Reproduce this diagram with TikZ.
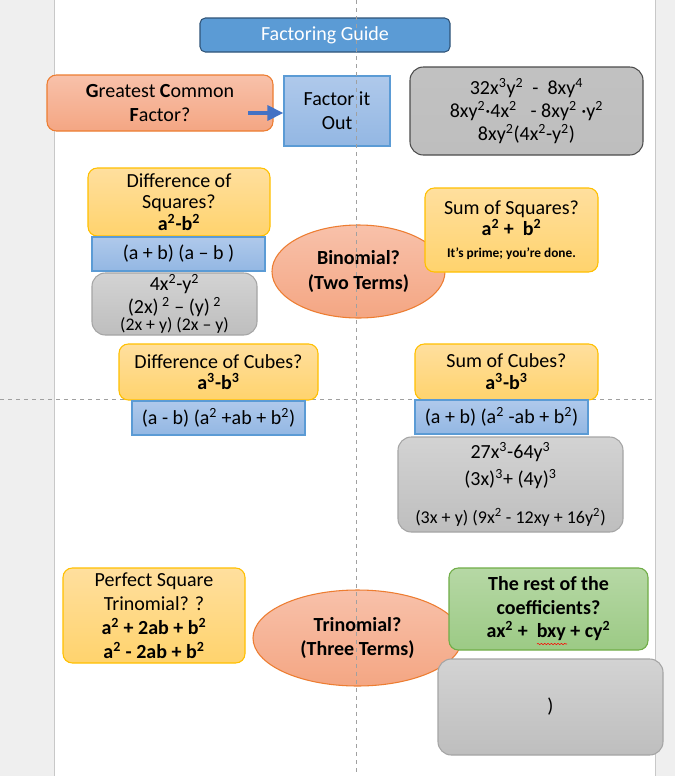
\documentclass[tikz,border=0pt]{standalone}
\usepackage{fontspec}
\setmainfont{Carlito}
\usepackage{xcolor}
\definecolor{bandgris}{HTML}{EFEFEF}
\definecolor{bordpage}{HTML}{C8C8C8}
\definecolor{grille}{HTML}{A0A0A0}
\definecolor{titrefond}{HTML}{5B9BD5}
\definecolor{titrebord}{HTML}{2F5478}
\definecolor{orangehaut}{HTML}{F8C1AA}
\definecolor{orangebas}{HTML}{F4A683}
\definecolor{orangebord}{HTML}{ED7D31}
\definecolor{jaunehaut}{HTML}{FFDF9E}
\definecolor{jaunebas}{HTML}{FFD36D}
\definecolor{jaunebord}{HTML}{FFC000}
\definecolor{bleuhaut}{HTML}{AFC9EB}
\definecolor{bleubas}{HTML}{93B7E3}
\definecolor{bleubord}{HTML}{5B9BD5}
\definecolor{grishaut}{HTML}{D3D3D3}
\definecolor{grisbas}{HTML}{BEBEBE}
\definecolor{grisbord}{HTML}{A5A5A5}
\definecolor{vertthaut}{HTML}{B6D8A5}
\definecolor{vertbas}{HTML}{9CCA85}
\definecolor{vertbord}{HTML}{70AD47}
\definecolor{fleche}{HTML}{4472C4}
\usetikzlibrary{arrows.meta, shapes.geometric, decorations.pathmorphing}
\newcommand{\pw}[1]{\textsuperscript{#1}}

\begin{document}
\begin{tikzpicture}[x=0.75pt, y=-0.75pt,
      dims/.style 2 args={minimum width=#1*0.75pt, minimum height=#2*0.75pt},
      lignes/.style={font=\fontsize{15}{#1}\selectfont},
      boite/.style={rounded corners=7pt, align=center, inner sep=1pt,
                    line width=0.8pt, lignes=17},
      titre/.style={boite, rounded corners=4pt, draw=titrebord, fill=titrefond,
                    text=white},
      question/.style={boite, draw=orangebord, top color=orangehaut,
                       bottom color=orangebas},
      cas/.style={boite, draw=jaunebord, top color=jaunehaut,
                  bottom color=jaunebas},
      formule/.style={boite, sharp corners, draw=bleubord, top color=bleuhaut,
                      bottom color=bleubas},
      exemple/.style={boite, rounded corners=10pt, draw=grisbord,
                      top color=grishaut, bottom color=grisbas},
      reste/.style={boite, draw=vertbord, top color=vertthaut,
                    bottom color=vertbas},
      termes/.style={ellipse, draw=orangebord, line width=0.8pt, inner sep=0pt,
                     top color=orangehaut, bottom color=orangebas,
                     align=center, lignes=18.5},
      pointe/.style={-{Triangle[length=12pt, width=11pt]}, line width=3.6pt,
                     draw=fleche},
      guide/.style={draw=grille, dashed, line width=0.7pt},
      faute/.style={draw=red, line width=0.4pt, decorate,
                    decoration={snake, amplitude=0.5pt, segment length=2.5pt}}]
    \useasboundingbox (0,0) rectangle (675,776);
    % page and margins
    \fill[white] (0,0) rectangle (675,776);
    \fill[bandgris] (0,0) rectangle (54,776);
    \fill[bandgris] (656,0) rectangle (675,776);
    \draw[bordpage, line width=1.1pt] (54.5,0) -- (54.5,776);
    \draw[bordpage, line width=1.1pt] (655.5,0) -- (655.5,776);
    \coordinate (gh1) at (0,399.5);
    \coordinate (gh2) at (655,399.5);
    \draw[guide] (gh1) -- (gh2);

    % greatest common factor
    \node[titre, dims={250}{34}] (guide) at (325,35) {Factoring Guide};
    \node[question, dims={226}{56}, lignes=18] (gcf) at (160,103)
      {\textbf{G}reatest \textbf{C}ommon\\\textbf{F}actor?};
    \node[formule, dims={106}{70}, lignes=18] (sortir) at (337,111)
      {Factor it\\Out};
    \node[exemple, draw=black!70, top color=grisbas!95!white, bottom color=grisbas,
          dims={233}{88}, lignes=17.3] (gcfex) at (526.5,111)
      {32x\pw3y\pw2\ \ -\ \ 8xy\pw4\\
       8xy\pw2·4x\pw2\ \ \ - 8xy\pw2 ·y\pw2\\
       8xy\pw2(4x\pw2-y\pw2)};
    \coordinate (queue) at (248,113);
    \draw[pointe] (queue) -- (queue -| sortir.west);

    % binomials
    \node[termes, dims={173}{93}] (binome) at (358.5,271.5)
      {\textbf{Binomial?}\\\textbf{(Two Terms)}};
    \node[cas, dims={182}{68}, lignes=16] (diffcarres) at (179,202)
      {Difference of\\Squares?\\\textbf{a\pw2-b\pw2}};
    \node[formule, dims={173}{34}] (diffcarresf) at (178.5,254)
      {(a + b) (a – b )};
    \node[exemple, dims={165}{62}, lignes=17] (diffcarresex) at (174.5,304)
      {4x\pw2-y\pw2\\(2x)\,\pw2 – (y)\,\pw2\\[-4.5pt]
       {\fontsize{13.3}{14}\selectfont (2x + y) (2x – y)}};
    \node[cas, dims={173}{84}, lignes=16.3] (sommecarres) at (511.5,230)
      {Sum of Squares?\\\textbf{a\pw2 +\ \ b\pw2}\\
       {\fontsize{10}{11}\selectfont\bfseries It’s prime; you’re done.}};

    % cubes
    \node[cas, dims={199}{56}, lignes=16] (diffcubes) at (218.5,372)
      {Difference of Cubes?\\\textbf{a\pw3-b\pw3}};
    \node[formule, dims={173}{34}] (diffcubesf) at (218.5,418)
      {(a - b) (a\pw2 +ab + b\pw2)};
    \node[cas, dims={183}{56}, lignes=16.5] (sommecubes) at (506.5,372)
      {Sum of Cubes?\\\textbf{a\pw3-b\pw3}};
    \node[formule, dims={173}{34}] (sommecubesf) at (501.5,417)
      {(a + b) (a\pw2 -ab + b\pw2)};
    \node[exemple, dims={225}{95}, lignes=20] (sommecubesex) at (510.5,484.5)
      {27x\pw3-64y\pw3\\(3x)\pw3+ (4y)\pw3\\[9pt]
       {\fontsize{13.5}{14}\selectfont (3x + y) (9x\pw2 - 12xy + 16y\pw2)}};

    % trinomials
    \node[termes, dims={209}{96}] (trinome) at (357.5,638)
      {\textbf{Trinomial?}\\\textbf{(Three Terms)}};
    \node[cas, dims={182}{95}, lignes=18] (carreparfait) at (154,615.5)
      {Perfect Square\\Trinomial? ?\\\textbf{a\pw2 + 2ab + b\pw2}\\
       \textbf{a\pw2 - 2ab + b\pw2}};
    \node[reste, dims={199}{82}, lignes=17.6] (autres) at (548.5,609)
      {\textbf{The rest of the}\\\textbf{coefficients?}\\
       \textbf{ax\pw2 +\ \ bxy + cy\pw2}};
    \node[exemple, dims={225}{96}] (autresex) at (550.5,707) {)};
    \coordinate (f1) at (537,644);
    \coordinate (f2) at (567,644);
    \draw[faute] (f1) -- (f2);

    \coordinate (gv1) at (356,0);
    \coordinate (gv2) at (356,776);
    \draw[guide] (gv1) -- (gv2);
\end{tikzpicture}
\end{document}
